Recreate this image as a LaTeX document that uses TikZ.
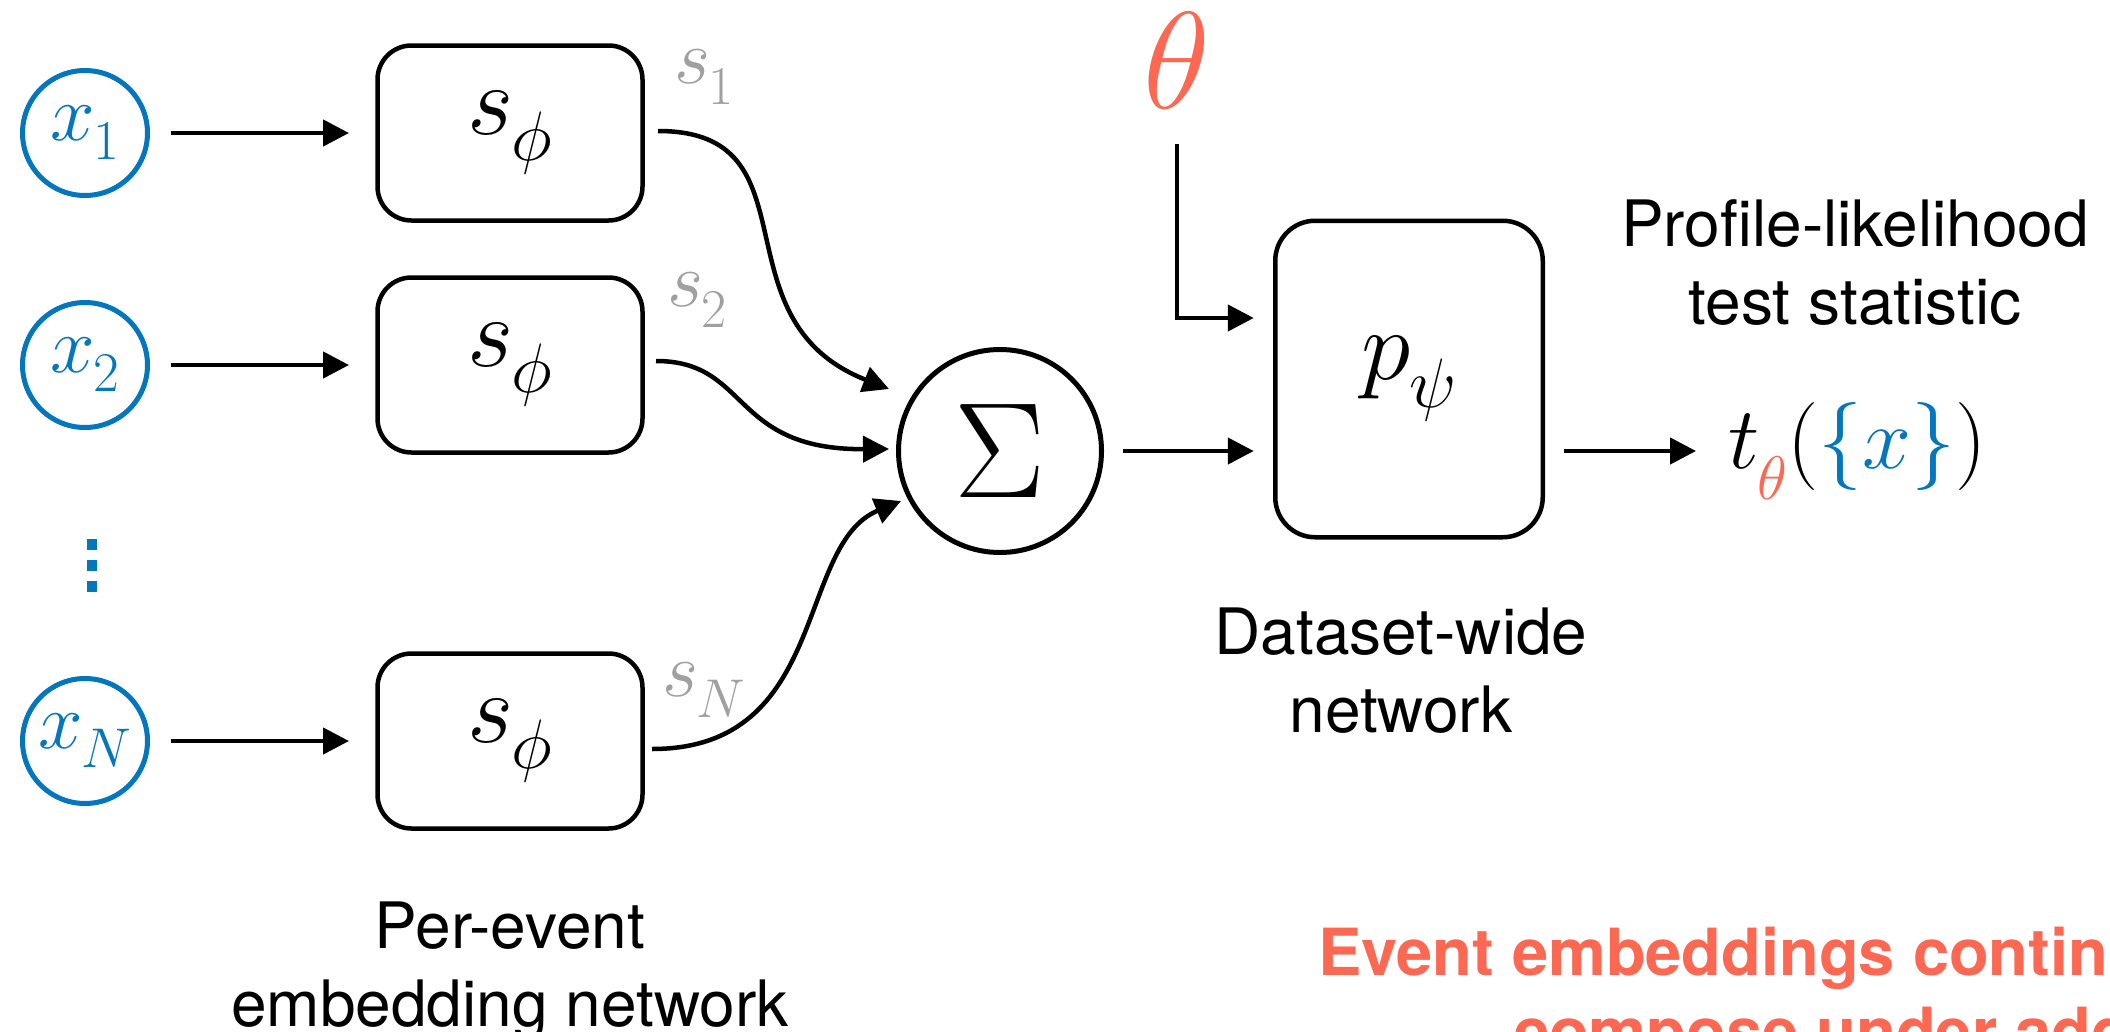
\RequirePackage{fix-cm}
\documentclass[tikz,border=0pt]{standalone}
\usepackage[no-math]{fontspec}
\newfontfamily\helv{TeX Gyre Heros}
\usetikzlibrary{arrows.meta,calc}
\definecolor{evblue}{RGB}{3,118,189}
\definecolor{hlred}{RGB}{252,104,82}
\definecolor{lblgray}{RGB}{160,160,160}
% symbol with a lowered, reduced subscript
\newcommand\withsub[3][0.26em]{$#2$\kern-0.02em\raisebox{-#1}{\scalebox{0.7}{$#3$}}}

\begin{document}
\begin{tikzpicture}[x=1pt,y=1pt,
  every node/.style={inner sep=0pt, outer sep=0pt},
  inp/.style={circle, draw=evblue, line width=5pt, minimum size=125pt,
    text=evblue, font=\fontsize{80}{90}\selectfont},
  embed/.style={draw, rounded corners=34pt, line width=4.5pt,
    minimum width=265pt, minimum height=175pt, font=\fontsize{100}{110}\selectfont},
  sumnode/.style={circle, draw, line width=5pt, minimum size=203pt,
    font=\fontsize{136}{150}\selectfont},
  sname/.style={text=lblgray, font=\fontsize{78}{86}\selectfont},
  arr/.style={-{Triangle[length=26pt,width=26pt]}, line width=4.5pt},
  lbl/.style={font=\helv\fontsize{64}{78}\selectfont, align=center},
  note/.style={text=hlred, font=\helv\bfseries\fontsize{65}{78}\selectfont}
]
\fill[white] (0,0) rectangle (2110,-1031);
\clip (0,0) rectangle (2110,-1031);

% inputs
\node[inp] (x1) at (85,-133) {\raisebox{-8pt}{\withsub[0.24em]{x}{1}}};
\node[inp] (x2) at (85,-365) {\raisebox{-8pt}{\withsub[0.24em]{x}{2}}};
\node[inp] (xN) at (85,-741) {\raisebox{-8pt}{\withsub[0.24em]{x}{N}}};
\foreach \yy in {539,560,581}
  \fill[evblue] (87,-\yy) rectangle (97,-\yy-11);

% per-event embedding boxes
\node[embed] (b1) at (510,-133) {\withsub{s}{\phi}};
\node[embed] (b2) at (510,-365) {\withsub{s}{\phi}};
\node[embed] (bN) at (510,-741) {\withsub{s}{\phi}};

\foreach \i in {1,2,N}
  \draw[arr, shorten <=23.5pt, shorten >=28.5pt] (x\i) -- (b\i);

% embedding labels
\node[sname] (s1) at (704,-77) {\withsub[0.27em]{s}{1}};
\node[sname] (s2) at (697,-300) {\withsub[0.27em]{s}{2}};
\node[sname] (sN) at (704,-690) {\withsub[0.27em]{s}{N}};

% sum
\node[sumnode] (sum) at (1000,-451) {$\Sigma$};
\coordinate (e1) at ($(sum)+(-111,62)$);
\coordinate (e2) at ($(sum)+(-111,2)$);
\coordinate (eN) at ($(sum)+(-99,-50)$);

\draw[arr] ([shift={(15.5,2)}]b1.east) .. controls ([shift={(177.5,2)}]b1.east)
  and ($(e1)+(-177,70)$) .. (e1);
\draw[arr] ([shift={(13.5,4)}]b2.east) .. controls ([shift={(107.5,4)}]b2.east)
  and ($(e2)+(-159,-1)$) .. (e2);
\draw[arr] ([shift={(9.5,-8)}]bN.east) .. controls ([shift={(187.5,-8)}]bN.east)
  and ($(eN)+(-106,-44)$) .. (eN);

% dataset-wide network
\node[draw, rounded corners=40pt, line width=4.5pt, minimum width=267.5pt,
  minimum height=316.5pt, font=\fontsize{100}{110}\selectfont]
  (pbox) at (1409,-379) {\withsub[0.28em]{p}{\psi}};
\node[text=hlred, font=\fontsize{138}{150}\selectfont] (theta) at (1177,-61) {$\theta$};

\draw[arr, shorten <=21pt, shorten >=21.5pt] (sum) -- (sum -| pbox.west);
\draw[arr, shorten <=35pt, shorten >=21.5pt] (theta.south) |- ([yshift=61pt]pbox.west);

% output
\node[anchor=base west, font=\fontsize{88}{100}\selectfont] (tstat) at (1728,-468)
  {\withsub[0.36em]{t}{\textcolor{hlred}{\theta}}$(\textcolor{evblue}{\{x\}})$};
\draw[arr, shorten <=21.5pt, shorten >=32pt] (pbox.east |- sum) -- (tstat.west |- sum);

% captions
\node[lbl, anchor=north] (cprof) at (1855,-200) {Profile-likelihood\\test statistic};
\node[lbl, anchor=north] (cdata) at (1401,-608) {Dataset-wide\\network};
\node[lbl, anchor=north] (cper) at (510,-902) {Per-event\\embedding network};

\node[note, anchor=base west] (n1) at (1318,-975) {Event embeddings continuously};
\node[note, anchor=base west] (n2) at (1513,-1054) {compose under addition};
\end{tikzpicture}
\end{document}
